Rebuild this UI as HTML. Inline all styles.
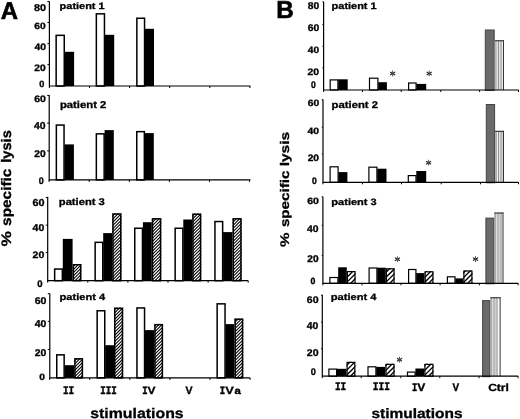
<!DOCTYPE html>
<html><head><meta charset="utf-8"><style>
html,body{margin:0;padding:0;background:#fff;}
svg{display:block;filter:grayscale(1);}
</style></head><body>
<svg width="520" height="419" viewBox="0 0 520 419" style="font-family:'Liberation Sans',sans-serif" text-rendering="geometricPrecision">
<defs></defs>
<rect width="520" height="419" fill="#fff"/>
<text transform="translate(0.80,19.30) scale(0.987,1)" font-family="Liberation Sans" font-weight="700" font-size="24.20" fill="#000" stroke="#000" stroke-width="0.608">A</text>
<text transform="translate(276.22,18.30) scale(0.991,1)" font-family="Liberation Sans" font-weight="700" font-size="24.49" fill="#000" stroke="#000" stroke-width="0.606">B</text>
<text transform="translate(34.00,11.12) scale(1.097,1)" font-family="Liberation Sans" font-weight="700" font-size="9.86" fill="#000" stroke="#000" stroke-width="0.319">80</text>
<text transform="translate(34.36,28.72) scale(1.125,1)" font-family="Liberation Sans" font-weight="700" font-size="9.14" fill="#000" stroke="#000" stroke-width="0.311">60</text>
<text transform="translate(34.47,49.62) scale(1.118,1)" font-family="Liberation Sans" font-weight="700" font-size="9.29" fill="#000" stroke="#000" stroke-width="0.313">40</text>
<text transform="translate(34.36,70.62) scale(1.091,1)" font-family="Liberation Sans" font-weight="700" font-size="9.43" fill="#000" stroke="#000" stroke-width="0.321">20</text>
<text transform="translate(39.16,86.83) scale(1.002,1)" font-family="Liberation Sans" font-weight="700" font-size="9.14" fill="#000" stroke="#000" stroke-width="0.349">0</text>
<text transform="translate(59.61,8.92) scale(1.204,1)" font-family="Liberation Sans" font-weight="700" font-size="9.10" fill="#000" stroke="#000" stroke-width="0.291">patient 1</text>
<rect x="56.15" y="35.35" width="8.10" height="50.65" fill="#fff" stroke="#000" stroke-width="1.5"/>
<rect x="64.70" y="51.80" width="9.40" height="34.20" fill="#000"/>
<rect x="96.35" y="13.85" width="8.10" height="72.15" fill="#fff" stroke="#000" stroke-width="1.5"/>
<rect x="104.90" y="34.80" width="9.30" height="51.20" fill="#000"/>
<rect x="136.85" y="18.25" width="7.70" height="67.75" fill="#fff" stroke="#000" stroke-width="1.5"/>
<rect x="145.00" y="28.80" width="9.00" height="57.20" fill="#000"/>
<text transform="translate(34.15,101.83) scale(1.122,1)" font-family="Liberation Sans" font-weight="700" font-size="9.43" fill="#000" stroke="#000" stroke-width="0.312">60</text>
<text transform="translate(34.07,128.52) scale(1.038,1)" font-family="Liberation Sans" font-weight="700" font-size="10.00" fill="#000" stroke="#000" stroke-width="0.337">40</text>
<text transform="translate(34.16,157.22) scale(1.044,1)" font-family="Liberation Sans" font-weight="700" font-size="9.86" fill="#000" stroke="#000" stroke-width="0.335">20</text>
<text transform="translate(38.67,183.62) scale(0.935,1)" font-family="Liberation Sans" font-weight="700" font-size="9.57" fill="#000" stroke="#000" stroke-width="0.374">0</text>
<text transform="translate(59.89,108.33) scale(1.140,1)" font-family="Liberation Sans" font-weight="700" font-size="9.93" fill="#000" stroke="#000" stroke-width="0.307">patient 2</text>
<rect x="56.35" y="125.05" width="7.70" height="54.85" fill="#fff" stroke="#000" stroke-width="1.5"/>
<rect x="64.50" y="144.40" width="9.40" height="35.50" fill="#000"/>
<rect x="96.35" y="133.85" width="7.80" height="46.05" fill="#fff" stroke="#000" stroke-width="1.5"/>
<rect x="104.60" y="130.10" width="9.20" height="49.80" fill="#000"/>
<rect x="136.75" y="131.65" width="7.60" height="48.25" fill="#fff" stroke="#000" stroke-width="1.5"/>
<rect x="144.80" y="133.10" width="9.00" height="46.80" fill="#000"/>
<text transform="translate(32.54,205.82) scale(1.087,1)" font-family="Liberation Sans" font-weight="700" font-size="10.00" fill="#000" stroke="#000" stroke-width="0.322">60</text>
<text transform="translate(32.57,231.02) scale(1.072,1)" font-family="Liberation Sans" font-weight="700" font-size="9.86" fill="#000" stroke="#000" stroke-width="0.326">40</text>
<text transform="translate(32.55,258.43) scale(1.139,1)" font-family="Liberation Sans" font-weight="700" font-size="9.29" fill="#000" stroke="#000" stroke-width="0.307">20</text>
<text transform="translate(37.14,286.62) scale(1.001,1)" font-family="Liberation Sans" font-weight="700" font-size="9.57" fill="#000" stroke="#000" stroke-width="0.350">0</text>
<text transform="translate(58.80,205.02) scale(1.158,1)" font-family="Liberation Sans" font-weight="700" font-size="9.66" fill="#000" stroke="#000" stroke-width="0.302">patient 3</text>
<rect x="54.65" y="269.05" width="7.70" height="11.65" fill="#fff" stroke="#000" stroke-width="1.5"/>
<rect x="62.80" y="238.90" width="9.80" height="41.80" fill="#000"/>
<clipPath id="c1"><rect x="72.60" y="264.00" width="8.80" height="16.70"/></clipPath>
<g clip-path="url(#c1)"><rect x="72.60" y="264.00" width="8.80" height="16.70" fill="#fff"/><path d="M71.60,290.50L82.40,279.70M71.60,287.30L82.40,276.50M71.60,284.10L82.40,273.30M71.60,280.90L82.40,270.10M71.60,277.70L82.40,266.90M71.60,274.50L82.40,263.70M71.60,271.30L82.40,260.50M71.60,268.10L82.40,257.30M71.60,264.90L82.40,254.10" stroke="#000" stroke-width="1.05" fill="none"/></g>
<rect x="73.35" y="264.75" width="7.30" height="15.95" fill="none" stroke="#000" stroke-width="1.5"/>
<rect x="95.15" y="242.35" width="7.60" height="38.35" fill="#fff" stroke="#000" stroke-width="1.5"/>
<rect x="103.20" y="233.10" width="9.00" height="47.60" fill="#000"/>
<clipPath id="c2"><rect x="112.20" y="213.30" width="9.30" height="67.40"/></clipPath>
<g clip-path="url(#c2)"><rect x="112.20" y="213.30" width="9.30" height="67.40" fill="#fff"/><path d="M111.20,291.00L122.50,279.70M111.20,287.80L122.50,276.50M111.20,284.60L122.50,273.30M111.20,281.40L122.50,270.10M111.20,278.20L122.50,266.90M111.20,275.00L122.50,263.70M111.20,271.80L122.50,260.50M111.20,268.60L122.50,257.30M111.20,265.40L122.50,254.10M111.20,262.20L122.50,250.90M111.20,259.00L122.50,247.70M111.20,255.80L122.50,244.50M111.20,252.60L122.50,241.30M111.20,249.40L122.50,238.10M111.20,246.20L122.50,234.90M111.20,243.00L122.50,231.70M111.20,239.80L122.50,228.50M111.20,236.60L122.50,225.30M111.20,233.40L122.50,222.10M111.20,230.20L122.50,218.90M111.20,227.00L122.50,215.70M111.20,223.80L122.50,212.50M111.20,220.60L122.50,209.30M111.20,217.40L122.50,206.10M111.20,214.20L122.50,202.90" stroke="#000" stroke-width="1.05" fill="none"/></g>
<rect x="112.95" y="214.05" width="7.80" height="66.65" fill="none" stroke="#000" stroke-width="1.5"/>
<rect x="134.75" y="228.25" width="7.70" height="52.45" fill="#fff" stroke="#000" stroke-width="1.5"/>
<rect x="142.90" y="222.20" width="8.90" height="58.50" fill="#000"/>
<clipPath id="c3"><rect x="151.80" y="218.10" width="9.50" height="62.60"/></clipPath>
<g clip-path="url(#c3)"><rect x="151.80" y="218.10" width="9.50" height="62.60" fill="#fff"/><path d="M150.80,291.20L162.30,279.70M150.80,288.00L162.30,276.50M150.80,284.80L162.30,273.30M150.80,281.60L162.30,270.10M150.80,278.40L162.30,266.90M150.80,275.20L162.30,263.70M150.80,272.00L162.30,260.50M150.80,268.80L162.30,257.30M150.80,265.60L162.30,254.10M150.80,262.40L162.30,250.90M150.80,259.20L162.30,247.70M150.80,256.00L162.30,244.50M150.80,252.80L162.30,241.30M150.80,249.60L162.30,238.10M150.80,246.40L162.30,234.90M150.80,243.20L162.30,231.70M150.80,240.00L162.30,228.50M150.80,236.80L162.30,225.30M150.80,233.60L162.30,222.10M150.80,230.40L162.30,218.90M150.80,227.20L162.30,215.70M150.80,224.00L162.30,212.50M150.80,220.80L162.30,209.30" stroke="#000" stroke-width="1.05" fill="none"/></g>
<rect x="152.55" y="218.85" width="8.00" height="61.85" fill="none" stroke="#000" stroke-width="1.5"/>
<rect x="175.15" y="228.25" width="7.70" height="52.45" fill="#fff" stroke="#000" stroke-width="1.5"/>
<rect x="183.30" y="219.50" width="8.90" height="61.20" fill="#000"/>
<clipPath id="c4"><rect x="192.20" y="213.50" width="9.10" height="67.20"/></clipPath>
<g clip-path="url(#c4)"><rect x="192.20" y="213.50" width="9.10" height="67.20" fill="#fff"/><path d="M191.20,290.80L202.30,279.70M191.20,287.60L202.30,276.50M191.20,284.40L202.30,273.30M191.20,281.20L202.30,270.10M191.20,278.00L202.30,266.90M191.20,274.80L202.30,263.70M191.20,271.60L202.30,260.50M191.20,268.40L202.30,257.30M191.20,265.20L202.30,254.10M191.20,262.00L202.30,250.90M191.20,258.80L202.30,247.70M191.20,255.60L202.30,244.50M191.20,252.40L202.30,241.30M191.20,249.20L202.30,238.10M191.20,246.00L202.30,234.90M191.20,242.80L202.30,231.70M191.20,239.60L202.30,228.50M191.20,236.40L202.30,225.30M191.20,233.20L202.30,222.10M191.20,230.00L202.30,218.90M191.20,226.80L202.30,215.70M191.20,223.60L202.30,212.50M191.20,220.40L202.30,209.30M191.20,217.20L202.30,206.10M191.20,214.00L202.30,202.90" stroke="#000" stroke-width="1.05" fill="none"/></g>
<rect x="192.95" y="214.25" width="7.60" height="66.45" fill="none" stroke="#000" stroke-width="1.5"/>
<rect x="214.95" y="221.55" width="7.70" height="59.15" fill="#fff" stroke="#000" stroke-width="1.5"/>
<rect x="223.10" y="232.10" width="9.40" height="48.60" fill="#000"/>
<clipPath id="c5"><rect x="232.50" y="218.10" width="9.20" height="62.60"/></clipPath>
<g clip-path="url(#c5)"><rect x="232.50" y="218.10" width="9.20" height="62.60" fill="#fff"/><path d="M231.50,290.90L242.70,279.70M231.50,287.70L242.70,276.50M231.50,284.50L242.70,273.30M231.50,281.30L242.70,270.10M231.50,278.10L242.70,266.90M231.50,274.90L242.70,263.70M231.50,271.70L242.70,260.50M231.50,268.50L242.70,257.30M231.50,265.30L242.70,254.10M231.50,262.10L242.70,250.90M231.50,258.90L242.70,247.70M231.50,255.70L242.70,244.50M231.50,252.50L242.70,241.30M231.50,249.30L242.70,238.10M231.50,246.10L242.70,234.90M231.50,242.90L242.70,231.70M231.50,239.70L242.70,228.50M231.50,236.50L242.70,225.30M231.50,233.30L242.70,222.10M231.50,230.10L242.70,218.90M231.50,226.90L242.70,215.70M231.50,223.70L242.70,212.50M231.50,220.50L242.70,209.30" stroke="#000" stroke-width="1.05" fill="none"/></g>
<rect x="233.25" y="218.85" width="7.70" height="61.85" fill="none" stroke="#000" stroke-width="1.5"/>
<text transform="translate(34.75,303.52) scale(1.073,1)" font-family="Liberation Sans" font-weight="700" font-size="9.86" fill="#000" stroke="#000" stroke-width="0.326">60</text>
<text transform="translate(34.67,327.43) scale(1.063,1)" font-family="Liberation Sans" font-weight="700" font-size="9.86" fill="#000" stroke="#000" stroke-width="0.329">40</text>
<text transform="translate(34.76,355.82) scale(1.069,1)" font-family="Liberation Sans" font-weight="700" font-size="9.71" fill="#000" stroke="#000" stroke-width="0.327">20</text>
<text transform="translate(39.32,379.93) scale(1.117,1)" font-family="Liberation Sans" font-weight="700" font-size="9.14" fill="#000" stroke="#000" stroke-width="0.313">0</text>
<text transform="translate(59.60,299.72) scale(1.201,1)" font-family="Liberation Sans" font-weight="700" font-size="9.24" fill="#000" stroke="#000" stroke-width="0.291">patient 4</text>
<rect x="56.75" y="354.85" width="7.40" height="23.05" fill="#fff" stroke="#000" stroke-width="1.5"/>
<rect x="64.60" y="365.20" width="9.60" height="12.70" fill="#000"/>
<clipPath id="c6"><rect x="74.20" y="358.10" width="8.90" height="19.80"/></clipPath>
<g clip-path="url(#c6)"><rect x="74.20" y="358.10" width="8.90" height="19.80" fill="#fff"/><path d="M73.20,387.80L84.10,376.90M73.20,384.60L84.10,373.70M73.20,381.40L84.10,370.50M73.20,378.20L84.10,367.30M73.20,375.00L84.10,364.10M73.20,371.80L84.10,360.90M73.20,368.60L84.10,357.70M73.20,365.40L84.10,354.50M73.20,362.20L84.10,351.30M73.20,359.00L84.10,348.10" stroke="#000" stroke-width="1.05" fill="none"/></g>
<rect x="74.95" y="358.85" width="7.40" height="19.05" fill="none" stroke="#000" stroke-width="1.5"/>
<rect x="97.15" y="310.75" width="7.60" height="67.15" fill="#fff" stroke="#000" stroke-width="1.5"/>
<rect x="105.20" y="345.20" width="8.80" height="32.70" fill="#000"/>
<clipPath id="c7"><rect x="114.00" y="307.60" width="9.20" height="70.30"/></clipPath>
<g clip-path="url(#c7)"><rect x="114.00" y="307.60" width="9.20" height="70.30" fill="#fff"/><path d="M113.00,388.10L124.20,376.90M113.00,384.90L124.20,373.70M113.00,381.70L124.20,370.50M113.00,378.50L124.20,367.30M113.00,375.30L124.20,364.10M113.00,372.10L124.20,360.90M113.00,368.90L124.20,357.70M113.00,365.70L124.20,354.50M113.00,362.50L124.20,351.30M113.00,359.30L124.20,348.10M113.00,356.10L124.20,344.90M113.00,352.90L124.20,341.70M113.00,349.70L124.20,338.50M113.00,346.50L124.20,335.30M113.00,343.30L124.20,332.10M113.00,340.10L124.20,328.90M113.00,336.90L124.20,325.70M113.00,333.70L124.20,322.50M113.00,330.50L124.20,319.30M113.00,327.30L124.20,316.10M113.00,324.10L124.20,312.90M113.00,320.90L124.20,309.70M113.00,317.70L124.20,306.50M113.00,314.50L124.20,303.30M113.00,311.30L124.20,300.10M113.00,308.10L124.20,296.90" stroke="#000" stroke-width="1.05" fill="none"/></g>
<rect x="114.75" y="308.35" width="7.70" height="69.55" fill="none" stroke="#000" stroke-width="1.5"/>
<rect x="136.95" y="307.95" width="7.60" height="69.95" fill="#fff" stroke="#000" stroke-width="1.5"/>
<rect x="145.00" y="330.10" width="9.20" height="47.80" fill="#000"/>
<clipPath id="c8"><rect x="154.20" y="323.90" width="8.90" height="54.00"/></clipPath>
<g clip-path="url(#c8)"><rect x="154.20" y="323.90" width="8.90" height="54.00" fill="#fff"/><path d="M153.20,387.80L164.10,376.90M153.20,384.60L164.10,373.70M153.20,381.40L164.10,370.50M153.20,378.20L164.10,367.30M153.20,375.00L164.10,364.10M153.20,371.80L164.10,360.90M153.20,368.60L164.10,357.70M153.20,365.40L164.10,354.50M153.20,362.20L164.10,351.30M153.20,359.00L164.10,348.10M153.20,355.80L164.10,344.90M153.20,352.60L164.10,341.70M153.20,349.40L164.10,338.50M153.20,346.20L164.10,335.30M153.20,343.00L164.10,332.10M153.20,339.80L164.10,328.90M153.20,336.60L164.10,325.70M153.20,333.40L164.10,322.50M153.20,330.20L164.10,319.30M153.20,327.00L164.10,316.10" stroke="#000" stroke-width="1.05" fill="none"/></g>
<rect x="154.95" y="324.65" width="7.40" height="53.25" fill="none" stroke="#000" stroke-width="1.5"/>
<rect x="217.15" y="303.85" width="7.90" height="74.05" fill="#fff" stroke="#000" stroke-width="1.5"/>
<rect x="225.50" y="324.10" width="8.90" height="53.80" fill="#000"/>
<clipPath id="c9"><rect x="234.40" y="318.50" width="8.90" height="59.40"/></clipPath>
<g clip-path="url(#c9)"><rect x="234.40" y="318.50" width="8.90" height="59.40" fill="#fff"/><path d="M233.40,387.80L244.30,376.90M233.40,384.60L244.30,373.70M233.40,381.40L244.30,370.50M233.40,378.20L244.30,367.30M233.40,375.00L244.30,364.10M233.40,371.80L244.30,360.90M233.40,368.60L244.30,357.70M233.40,365.40L244.30,354.50M233.40,362.20L244.30,351.30M233.40,359.00L244.30,348.10M233.40,355.80L244.30,344.90M233.40,352.60L244.30,341.70M233.40,349.40L244.30,338.50M233.40,346.20L244.30,335.30M233.40,343.00L244.30,332.10M233.40,339.80L244.30,328.90M233.40,336.60L244.30,325.70M233.40,333.40L244.30,322.50M233.40,330.20L244.30,319.30M233.40,327.00L244.30,316.10M233.40,323.80L244.30,312.90M233.40,320.60L244.30,309.70" stroke="#000" stroke-width="1.05" fill="none"/></g>
<rect x="235.15" y="319.25" width="7.40" height="58.65" fill="none" stroke="#000" stroke-width="1.5"/>
<text transform="translate(62.91,393.72) scale(0.823,1)" font-family="Liberation Mono" font-weight="700" font-size="11.52" fill="#000" stroke="#000" stroke-width="0.425">II</text>
<text transform="translate(100.24,393.72) scale(0.797,1)" font-family="Liberation Mono" font-weight="700" font-size="11.52" fill="#000" stroke="#000" stroke-width="0.439">III</text>
<text transform="translate(142.15,393.72) scale(0.814,1)" font-family="Liberation Mono" font-weight="700" font-size="11.06" fill="#000" stroke="#000" stroke-width="0.430">I</text>
<text transform="translate(147.61,393.72) scale(1.127,1)" font-family="Liberation Sans" font-weight="700" font-size="10.58" fill="#000" stroke="#000" stroke-width="0.311">V</text>
<text transform="translate(185.52,393.72) scale(0.996,1)" font-family="Liberation Sans" font-weight="700" font-size="10.58" fill="#000" stroke="#000" stroke-width="0.351">V</text>
<text transform="translate(219.75,393.72) scale(0.814,1)" font-family="Liberation Mono" font-weight="700" font-size="11.06" fill="#000" stroke="#000" stroke-width="0.430">I</text>
<text transform="translate(225.30,393.72) scale(1.214,1)" font-family="Liberation Sans" font-weight="700" font-size="10.58" fill="#000" stroke="#000" stroke-width="0.288">V</text>
<text transform="translate(234.56,393.75) scale(1.143,1)" font-family="Liberation Sans" font-weight="700" font-size="9.91" fill="#000" stroke="#000" stroke-width="0.438">a</text>
<text transform="translate(90.27,417.52) scale(1.139,1)" font-family="Liberation Sans" font-weight="700" font-size="13.93" fill="#000" stroke="#000" stroke-width="0.307">stimulations</text>
<text transform="translate(11.12,246.51) rotate(-90) scale(1.255,1)" font-family="Liberation Sans" font-weight="700" font-size="13.80" stroke="#000" stroke-width="0.279">%</text>
<text transform="translate(11.12,225.91) rotate(-90) scale(1.116,1)" font-family="Liberation Sans" font-weight="700" font-size="13.80" stroke="#000" stroke-width="0.314">specific</text>
<text transform="translate(11.12,162.80) rotate(-90) scale(1.064,1)" font-family="Liberation Sans" font-weight="700" font-size="13.80" stroke="#000" stroke-width="0.329">lysis</text>
<text transform="translate(307.71,8.62) scale(1.049,1)" font-family="Liberation Sans" font-weight="700" font-size="9.86" fill="#000" stroke="#000" stroke-width="0.334">80</text>
<text transform="translate(307.66,30.93) scale(1.085,1)" font-family="Liberation Sans" font-weight="700" font-size="9.57" fill="#000" stroke="#000" stroke-width="0.323">60</text>
<text transform="translate(307.77,52.73) scale(1.114,1)" font-family="Liberation Sans" font-weight="700" font-size="9.14" fill="#000" stroke="#000" stroke-width="0.314">40</text>
<text transform="translate(307.56,74.62) scale(1.102,1)" font-family="Liberation Sans" font-weight="700" font-size="9.43" fill="#000" stroke="#000" stroke-width="0.318">20</text>
<text transform="translate(310.98,88.42) scale(0.891,1)" font-family="Liberation Sans" font-weight="700" font-size="9.57" fill="#000" stroke="#000" stroke-width="0.393">0</text>
<text transform="translate(331.61,9.12) scale(1.168,1)" font-family="Liberation Sans" font-weight="700" font-size="9.38" fill="#000" stroke="#000" stroke-width="0.300">patient 1</text>
<rect x="330.20" y="79.90" width="7.70" height="10.10" fill="#fff" stroke="#000" stroke-width="1.2"/>
<rect x="338.20" y="79.30" width="9.50" height="10.70" fill="#000"/>
<rect x="369.50" y="78.20" width="8.40" height="11.80" fill="#fff" stroke="#000" stroke-width="1.2"/>
<rect x="378.20" y="82.20" width="8.70" height="7.80" fill="#000"/>
<rect x="408.60" y="83.00" width="7.50" height="7.00" fill="#fff" stroke="#000" stroke-width="1.2"/>
<rect x="416.40" y="83.90" width="9.80" height="6.10" fill="#000"/>
<rect x="485.30" y="30.00" width="8.90" height="60.50" fill="#6a6a6a" stroke="#444" stroke-width="1"/>
<rect x="494.70" y="40.20" width="9.30" height="49.80" fill="#fff"/>
<rect x="494.70" y="40.20" width="0.40" height="49.80" fill="#555"/>
<rect x="495.20" y="40.20" width="1.50" height="49.80" fill="#aaa"/>
<rect x="497.80" y="40.20" width="1.00" height="49.80" fill="#777"/>
<rect x="499.60" y="40.20" width="2.70" height="49.80" fill="#bbb"/>
<rect x="503.00" y="40.20" width="1.00" height="49.80" fill="#333"/>
<rect x="494.70" y="40.20" width="9.30" height="1.1" fill="#333"/>
<path d="M395.11,72.05L390.09,74.95M395.11,74.95L390.09,72.05" stroke="#222" stroke-width="1.1" fill="none"/>
<path d="M392.60,70.60L392.60,76.40" stroke="#555" stroke-width="1" fill="none"/>
<path d="M431.71,72.05L426.69,74.95M431.71,74.95L426.69,72.05" stroke="#222" stroke-width="1.1" fill="none"/>
<path d="M429.20,70.60L429.20,76.40" stroke="#555" stroke-width="1" fill="none"/>
<text transform="translate(307.66,106.12) scale(1.136,1)" font-family="Liberation Sans" font-weight="700" font-size="9.14" fill="#000" stroke="#000" stroke-width="0.308">60</text>
<text transform="translate(307.47,134.02) scale(1.135,1)" font-family="Liberation Sans" font-weight="700" font-size="9.14" fill="#000" stroke="#000" stroke-width="0.308">40</text>
<text transform="translate(307.67,160.72) scale(1.098,1)" font-family="Liberation Sans" font-weight="700" font-size="9.29" fill="#000" stroke="#000" stroke-width="0.319">20</text>
<text transform="translate(311.98,183.72) scale(0.904,1)" font-family="Liberation Sans" font-weight="700" font-size="9.43" fill="#000" stroke="#000" stroke-width="0.387">0</text>
<text transform="translate(331.59,108.12) scale(1.170,1)" font-family="Liberation Sans" font-weight="700" font-size="9.66" fill="#000" stroke="#000" stroke-width="0.299">patient 2</text>
<rect x="330.10" y="166.80" width="8.00" height="15.50" fill="#fff" stroke="#000" stroke-width="1.2"/>
<rect x="338.40" y="172.10" width="9.00" height="10.20" fill="#000"/>
<rect x="368.90" y="167.20" width="8.00" height="15.10" fill="#fff" stroke="#000" stroke-width="1.2"/>
<rect x="377.20" y="168.70" width="9.30" height="13.60" fill="#000"/>
<rect x="408.30" y="175.60" width="7.70" height="6.70" fill="#fff" stroke="#000" stroke-width="1.2"/>
<rect x="416.30" y="171.00" width="9.90" height="11.30" fill="#000"/>
<rect x="486.30" y="104.50" width="8.30" height="78.30" fill="#6a6a6a" stroke="#444" stroke-width="1"/>
<rect x="495.10" y="130.80" width="8.90" height="51.50" fill="#fff"/>
<rect x="495.10" y="130.80" width="0.40" height="51.50" fill="#555"/>
<rect x="495.60" y="130.80" width="1.50" height="51.50" fill="#aaa"/>
<rect x="498.20" y="130.80" width="1.00" height="51.50" fill="#777"/>
<rect x="500.00" y="130.80" width="2.70" height="51.50" fill="#bbb"/>
<rect x="503.00" y="130.80" width="1.00" height="51.50" fill="#333"/>
<rect x="495.10" y="130.80" width="8.90" height="1.1" fill="#333"/>
<path d="M431.11,161.25L426.09,164.15M431.11,164.15L426.09,161.25" stroke="#222" stroke-width="1.1" fill="none"/>
<path d="M428.60,159.80L428.60,165.60" stroke="#555" stroke-width="1" fill="none"/>
<text transform="translate(307.25,203.62) scale(1.157,1)" font-family="Liberation Sans" font-weight="700" font-size="9.14" fill="#000" stroke="#000" stroke-width="0.302">60</text>
<text transform="translate(307.07,232.42) scale(1.084,1)" font-family="Liberation Sans" font-weight="700" font-size="9.57" fill="#000" stroke="#000" stroke-width="0.323">40</text>
<text transform="translate(307.27,261.82) scale(1.034,1)" font-family="Liberation Sans" font-weight="700" font-size="9.86" fill="#000" stroke="#000" stroke-width="0.338">20</text>
<text transform="translate(310.48,283.72) scale(0.971,1)" font-family="Liberation Sans" font-weight="700" font-size="9.00" fill="#000" stroke="#000" stroke-width="0.361">0</text>
<text transform="translate(331.31,205.02) scale(1.197,1)" font-family="Liberation Sans" font-weight="700" font-size="9.24" fill="#000" stroke="#000" stroke-width="0.292">patient 3</text>
<rect x="329.90" y="277.50" width="8.00" height="5.80" fill="#fff" stroke="#000" stroke-width="1.2"/>
<rect x="338.20" y="267.30" width="8.60" height="16.00" fill="#000"/>
<clipPath id="c10"><rect x="346.80" y="271.00" width="8.80" height="12.30"/></clipPath>
<g clip-path="url(#c10)"><rect x="346.80" y="271.00" width="8.80" height="12.30" fill="#fff"/><path d="M345.80,293.10L356.60,282.30M345.80,288.20L356.60,277.40M345.80,283.30L356.60,272.50M345.80,278.40L356.60,267.60M345.80,273.50L356.60,262.70" stroke="#000" stroke-width="1.35" fill="none"/></g>
<rect x="347.40" y="271.60" width="7.60" height="11.70" fill="none" stroke="#000" stroke-width="1.2"/>
<rect x="369.10" y="268.00" width="7.80" height="15.30" fill="#fff" stroke="#000" stroke-width="1.2"/>
<rect x="377.20" y="267.70" width="8.60" height="15.60" fill="#000"/>
<clipPath id="c11"><rect x="385.80" y="268.20" width="8.80" height="15.10"/></clipPath>
<g clip-path="url(#c11)"><rect x="385.80" y="268.20" width="8.80" height="15.10" fill="#fff"/><path d="M384.80,293.10L395.60,282.30M384.80,288.20L395.60,277.40M384.80,283.30L395.60,272.50M384.80,278.40L395.60,267.60M384.80,273.50L395.60,262.70" stroke="#000" stroke-width="1.35" fill="none"/></g>
<rect x="386.40" y="268.80" width="7.60" height="14.50" fill="none" stroke="#000" stroke-width="1.2"/>
<rect x="408.60" y="269.50" width="7.30" height="13.80" fill="#fff" stroke="#000" stroke-width="1.2"/>
<rect x="416.20" y="273.10" width="8.40" height="10.20" fill="#000"/>
<clipPath id="c12"><rect x="424.60" y="271.20" width="8.90" height="12.10"/></clipPath>
<g clip-path="url(#c12)"><rect x="424.60" y="271.20" width="8.90" height="12.10" fill="#fff"/><path d="M423.60,293.20L434.50,282.30M423.60,288.30L434.50,277.40M423.60,283.40L434.50,272.50M423.60,278.50L434.50,267.60M423.60,273.60L434.50,262.70" stroke="#000" stroke-width="1.35" fill="none"/></g>
<rect x="425.20" y="271.80" width="7.70" height="11.50" fill="none" stroke="#000" stroke-width="1.2"/>
<rect x="447.40" y="276.80" width="7.60" height="6.50" fill="#fff" stroke="#000" stroke-width="1.2"/>
<rect x="455.30" y="278.40" width="8.00" height="4.90" fill="#000"/>
<clipPath id="c13"><rect x="463.30" y="270.40" width="9.20" height="12.90"/></clipPath>
<g clip-path="url(#c13)"><rect x="463.30" y="270.40" width="9.20" height="12.90" fill="#fff"/><path d="M462.30,293.50L473.50,282.30M462.30,288.60L473.50,277.40M462.30,283.70L473.50,272.50M462.30,278.80L473.50,267.60M462.30,273.90L473.50,262.70" stroke="#000" stroke-width="1.35" fill="none"/></g>
<rect x="463.90" y="271.00" width="8.00" height="12.30" fill="none" stroke="#000" stroke-width="1.2"/>
<rect x="485.90" y="218.10" width="8.00" height="65.70" fill="#6a6a6a" stroke="#444" stroke-width="1"/>
<rect x="494.40" y="212.50" width="9.10" height="70.80" fill="#fff"/>
<rect x="494.40" y="212.50" width="0.40" height="70.80" fill="#555"/>
<rect x="494.90" y="212.50" width="1.50" height="70.80" fill="#aaa"/>
<rect x="497.50" y="212.50" width="1.00" height="70.80" fill="#777"/>
<rect x="499.30" y="212.50" width="2.70" height="70.80" fill="#bbb"/>
<rect x="502.50" y="212.50" width="1.00" height="70.80" fill="#333"/>
<rect x="494.40" y="212.50" width="9.10" height="1.1" fill="#333"/>
<path d="M399.91,257.75L394.89,260.65M399.91,260.65L394.89,257.75" stroke="#222" stroke-width="1.1" fill="none"/>
<path d="M397.40,256.30L397.40,262.10" stroke="#555" stroke-width="1" fill="none"/>
<path d="M478.01,257.65L472.99,260.55M478.01,260.55L472.99,257.65" stroke="#222" stroke-width="1.1" fill="none"/>
<path d="M475.50,256.20L475.50,262.00" stroke="#555" stroke-width="1" fill="none"/>
<text transform="translate(306.85,302.52) scale(1.105,1)" font-family="Liberation Sans" font-weight="700" font-size="9.57" fill="#000" stroke="#000" stroke-width="0.317">60</text>
<text transform="translate(306.77,329.32) scale(1.053,1)" font-family="Liberation Sans" font-weight="700" font-size="9.86" fill="#000" stroke="#000" stroke-width="0.332">40</text>
<text transform="translate(306.85,356.43) scale(1.073,1)" font-family="Liberation Sans" font-weight="700" font-size="9.86" fill="#000" stroke="#000" stroke-width="0.326">20</text>
<text transform="translate(310.86,375.22) scale(0.957,1)" font-family="Liberation Sans" font-weight="700" font-size="9.57" fill="#000" stroke="#000" stroke-width="0.366">0</text>
<text transform="translate(330.80,299.72) scale(1.201,1)" font-family="Liberation Sans" font-weight="700" font-size="9.24" fill="#000" stroke="#000" stroke-width="0.291">patient 4</text>
<rect x="328.90" y="369.10" width="7.70" height="7.10" fill="#fff" stroke="#000" stroke-width="1.2"/>
<rect x="336.90" y="368.80" width="9.60" height="7.40" fill="#000"/>
<clipPath id="c14"><rect x="346.50" y="361.80" width="8.90" height="14.40"/></clipPath>
<g clip-path="url(#c14)"><rect x="346.50" y="361.80" width="8.90" height="14.40" fill="#fff"/><path d="M345.50,386.10L356.40,375.20M345.50,381.20L356.40,370.30M345.50,376.30L356.40,365.40M345.50,371.40L356.40,360.50M345.50,366.50L356.40,355.60" stroke="#000" stroke-width="1.35" fill="none"/></g>
<rect x="347.10" y="362.40" width="7.70" height="13.80" fill="none" stroke="#000" stroke-width="1.2"/>
<rect x="368.00" y="366.80" width="7.90" height="9.40" fill="#fff" stroke="#000" stroke-width="1.2"/>
<rect x="376.20" y="366.90" width="9.20" height="9.30" fill="#000"/>
<clipPath id="c15"><rect x="385.40" y="363.80" width="9.20" height="12.40"/></clipPath>
<g clip-path="url(#c15)"><rect x="385.40" y="363.80" width="9.20" height="12.40" fill="#fff"/><path d="M384.40,386.40L395.60,375.20M384.40,381.50L395.60,370.30M384.40,376.60L395.60,365.40M384.40,371.70L395.60,360.50M384.40,366.80L395.60,355.60" stroke="#000" stroke-width="1.35" fill="none"/></g>
<rect x="386.00" y="364.40" width="8.00" height="11.80" fill="none" stroke="#000" stroke-width="1.2"/>
<rect x="407.50" y="372.10" width="7.60" height="4.10" fill="#fff" stroke="#000" stroke-width="1.2"/>
<rect x="415.40" y="368.50" width="8.90" height="7.70" fill="#000"/>
<clipPath id="c16"><rect x="424.30" y="363.80" width="9.20" height="12.40"/></clipPath>
<g clip-path="url(#c16)"><rect x="424.30" y="363.80" width="9.20" height="12.40" fill="#fff"/><path d="M423.30,386.40L434.50,375.20M423.30,381.50L434.50,370.30M423.30,376.60L434.50,365.40M423.30,371.70L434.50,360.50M423.30,366.80L434.50,355.60" stroke="#000" stroke-width="1.35" fill="none"/></g>
<rect x="424.90" y="364.40" width="8.00" height="11.80" fill="none" stroke="#000" stroke-width="1.2"/>
<rect x="482.60" y="300.60" width="7.30" height="76.10" fill="#6a6a6a" stroke="#444" stroke-width="1"/>
<rect x="490.40" y="297.20" width="10.20" height="79.00" fill="#fff"/>
<rect x="490.40" y="297.20" width="0.40" height="79.00" fill="#555"/>
<rect x="490.90" y="297.20" width="1.50" height="79.00" fill="#aaa"/>
<rect x="493.50" y="297.20" width="1.00" height="79.00" fill="#777"/>
<rect x="495.30" y="297.20" width="2.70" height="79.00" fill="#bbb"/>
<rect x="499.60" y="297.20" width="1.00" height="79.00" fill="#333"/>
<rect x="490.40" y="297.20" width="10.20" height="1.1" fill="#333"/>
<path d="M402.01,358.25L396.99,361.15M402.01,361.15L396.99,358.25" stroke="#222" stroke-width="1.1" fill="none"/>
<path d="M399.50,356.80L399.50,362.60" stroke="#555" stroke-width="1" fill="none"/>
<text transform="translate(334.91,390.43) scale(0.823,1)" font-family="Liberation Mono" font-weight="700" font-size="11.52" fill="#000" stroke="#000" stroke-width="0.425">II</text>
<text transform="translate(372.81,390.43) scale(0.829,1)" font-family="Liberation Mono" font-weight="700" font-size="11.52" fill="#000" stroke="#000" stroke-width="0.422">III</text>
<text transform="translate(411.97,390.52) scale(0.772,1)" font-family="Liberation Mono" font-weight="700" font-size="11.36" fill="#000" stroke="#000" stroke-width="0.453">I</text>
<text transform="translate(417.30,390.52) scale(1.111,1)" font-family="Liberation Sans" font-weight="700" font-size="10.87" fill="#000" stroke="#000" stroke-width="0.315">V</text>
<text transform="translate(452.53,390.52) scale(0.913,1)" font-family="Liberation Sans" font-weight="700" font-size="10.87" fill="#000" stroke="#000" stroke-width="0.383">V</text>
<text transform="translate(488.14,390.52) scale(1.168,1)" font-family="Liberation Sans" font-weight="700" font-size="10.34" fill="#000" stroke="#000" stroke-width="0.300">Ctrl</text>
<text transform="translate(371.38,417.52) scale(1.133,1)" font-family="Liberation Sans" font-weight="700" font-size="13.66" fill="#000" stroke="#000" stroke-width="0.309">stimulations</text>
<text transform="translate(289.12,246.88) rotate(-90) scale(1.300,1)" font-family="Liberation Sans" font-weight="700" font-size="12.50" stroke="#000" stroke-width="0.269">%</text>
<text transform="translate(289.12,227.11) rotate(-90) scale(1.214,1)" font-family="Liberation Sans" font-weight="700" font-size="12.50" stroke="#000" stroke-width="0.288">specific</text>
<text transform="translate(289.12,166.36) rotate(-90) scale(1.243,1)" font-family="Liberation Sans" font-weight="700" font-size="12.50" stroke="#000" stroke-width="0.282">lysis</text>
<line x1="49.40" y1="1.50" x2="49.40" y2="86.60" stroke="#000" stroke-width="1.2"/>
<line x1="49.40" y1="86.00" x2="250.40" y2="86.00" stroke="#000" stroke-width="1.2"/>
<line x1="47.40" y1="1.50" x2="49.40" y2="1.50" stroke="#000" stroke-width="1.0"/>
<line x1="47.40" y1="22.50" x2="49.40" y2="22.50" stroke="#000" stroke-width="1.0"/>
<line x1="47.40" y1="43.60" x2="49.40" y2="43.60" stroke="#000" stroke-width="1.0"/>
<line x1="47.40" y1="64.60" x2="49.40" y2="64.60" stroke="#000" stroke-width="1.0"/>
<line x1="49.40" y1="86.00" x2="49.40" y2="88.00" stroke="#000" stroke-width="1.0"/>
<line x1="89.50" y1="86.00" x2="89.50" y2="88.00" stroke="#000" stroke-width="1.0"/>
<line x1="129.60" y1="86.00" x2="129.60" y2="88.00" stroke="#000" stroke-width="1.0"/>
<line x1="169.70" y1="86.00" x2="169.70" y2="88.00" stroke="#000" stroke-width="1.0"/>
<line x1="209.80" y1="86.00" x2="209.80" y2="88.00" stroke="#000" stroke-width="1.0"/>
<line x1="249.90" y1="86.00" x2="249.90" y2="88.00" stroke="#000" stroke-width="1.0"/>
<line x1="49.20" y1="95.00" x2="49.20" y2="180.50" stroke="#000" stroke-width="1.2"/>
<line x1="49.20" y1="179.90" x2="250.40" y2="179.90" stroke="#000" stroke-width="1.2"/>
<line x1="47.20" y1="95.40" x2="49.20" y2="95.40" stroke="#000" stroke-width="1.0"/>
<line x1="47.20" y1="123.10" x2="49.20" y2="123.10" stroke="#000" stroke-width="1.0"/>
<line x1="47.20" y1="150.90" x2="49.20" y2="150.90" stroke="#000" stroke-width="1.0"/>
<line x1="49.10" y1="179.90" x2="49.10" y2="181.90" stroke="#000" stroke-width="1.0"/>
<line x1="89.20" y1="179.90" x2="89.20" y2="181.90" stroke="#000" stroke-width="1.0"/>
<line x1="129.30" y1="179.90" x2="129.30" y2="181.90" stroke="#000" stroke-width="1.0"/>
<line x1="169.40" y1="179.90" x2="169.40" y2="181.90" stroke="#000" stroke-width="1.0"/>
<line x1="209.50" y1="179.90" x2="209.50" y2="181.90" stroke="#000" stroke-width="1.0"/>
<line x1="249.60" y1="179.90" x2="249.60" y2="181.90" stroke="#000" stroke-width="1.0"/>
<line x1="47.70" y1="196.80" x2="47.70" y2="281.30" stroke="#000" stroke-width="1.2"/>
<line x1="47.70" y1="280.70" x2="248.20" y2="280.70" stroke="#000" stroke-width="1.2"/>
<line x1="45.70" y1="197.60" x2="47.70" y2="197.60" stroke="#000" stroke-width="1.0"/>
<line x1="45.70" y1="225.10" x2="47.70" y2="225.10" stroke="#000" stroke-width="1.0"/>
<line x1="45.70" y1="252.60" x2="47.70" y2="252.60" stroke="#000" stroke-width="1.0"/>
<line x1="47.70" y1="280.70" x2="47.70" y2="282.70" stroke="#000" stroke-width="1.0"/>
<line x1="87.80" y1="280.70" x2="87.80" y2="282.70" stroke="#000" stroke-width="1.0"/>
<line x1="127.90" y1="280.70" x2="127.90" y2="282.70" stroke="#000" stroke-width="1.0"/>
<line x1="168.00" y1="280.70" x2="168.00" y2="282.70" stroke="#000" stroke-width="1.0"/>
<line x1="208.10" y1="280.70" x2="208.10" y2="282.70" stroke="#000" stroke-width="1.0"/>
<line x1="248.20" y1="280.70" x2="248.20" y2="282.70" stroke="#000" stroke-width="1.0"/>
<line x1="49.80" y1="293.40" x2="49.80" y2="378.50" stroke="#000" stroke-width="1.2"/>
<line x1="49.80" y1="377.90" x2="250.20" y2="377.90" stroke="#000" stroke-width="1.2"/>
<line x1="47.80" y1="293.70" x2="49.80" y2="293.70" stroke="#000" stroke-width="1.0"/>
<line x1="47.80" y1="321.40" x2="49.80" y2="321.40" stroke="#000" stroke-width="1.0"/>
<line x1="47.80" y1="349.50" x2="49.80" y2="349.50" stroke="#000" stroke-width="1.0"/>
<line x1="49.60" y1="377.90" x2="49.60" y2="379.90" stroke="#000" stroke-width="1.0"/>
<line x1="89.70" y1="377.90" x2="89.70" y2="379.90" stroke="#000" stroke-width="1.0"/>
<line x1="129.80" y1="377.90" x2="129.80" y2="379.90" stroke="#000" stroke-width="1.0"/>
<line x1="169.90" y1="377.90" x2="169.90" y2="379.90" stroke="#000" stroke-width="1.0"/>
<line x1="210.00" y1="377.90" x2="210.00" y2="379.90" stroke="#000" stroke-width="1.0"/>
<line x1="250.10" y1="377.90" x2="250.10" y2="379.90" stroke="#000" stroke-width="1.0"/>
<line x1="323.60" y1="1.80" x2="323.60" y2="90.60" stroke="#000" stroke-width="1.2"/>
<line x1="323.60" y1="90.00" x2="518.70" y2="90.00" stroke="#000" stroke-width="1.2"/>
<line x1="322.40" y1="1.80" x2="323.60" y2="1.80" stroke="#000" stroke-width="1.0"/>
<line x1="322.40" y1="24.60" x2="323.60" y2="24.60" stroke="#000" stroke-width="1.0"/>
<line x1="322.40" y1="46.20" x2="323.60" y2="46.20" stroke="#000" stroke-width="1.0"/>
<line x1="322.40" y1="67.80" x2="323.60" y2="67.80" stroke="#000" stroke-width="1.0"/>
<line x1="323.60" y1="90.00" x2="323.60" y2="92.00" stroke="#000" stroke-width="1.0"/>
<line x1="362.50" y1="90.00" x2="362.50" y2="92.00" stroke="#000" stroke-width="1.0"/>
<line x1="401.20" y1="90.00" x2="401.20" y2="92.00" stroke="#000" stroke-width="1.0"/>
<line x1="440.80" y1="90.00" x2="440.80" y2="92.00" stroke="#000" stroke-width="1.0"/>
<line x1="479.60" y1="90.00" x2="479.60" y2="92.00" stroke="#000" stroke-width="1.0"/>
<line x1="518.50" y1="90.00" x2="518.50" y2="92.00" stroke="#000" stroke-width="1.0"/>
<line x1="323.00" y1="99.50" x2="323.00" y2="182.90" stroke="#000" stroke-width="1.2"/>
<line x1="323.00" y1="182.30" x2="518.50" y2="182.30" stroke="#000" stroke-width="1.2"/>
<line x1="321.80" y1="99.70" x2="323.00" y2="99.70" stroke="#000" stroke-width="1.0"/>
<line x1="321.80" y1="127.20" x2="323.00" y2="127.20" stroke="#000" stroke-width="1.0"/>
<line x1="321.80" y1="153.90" x2="323.00" y2="153.90" stroke="#000" stroke-width="1.0"/>
<line x1="322.90" y1="182.30" x2="322.90" y2="184.30" stroke="#000" stroke-width="1.0"/>
<line x1="362.50" y1="182.30" x2="362.50" y2="184.30" stroke="#000" stroke-width="1.0"/>
<line x1="401.50" y1="182.30" x2="401.50" y2="184.30" stroke="#000" stroke-width="1.0"/>
<line x1="441.20" y1="182.30" x2="441.20" y2="184.30" stroke="#000" stroke-width="1.0"/>
<line x1="480.50" y1="182.30" x2="480.50" y2="184.30" stroke="#000" stroke-width="1.0"/>
<line x1="518.50" y1="182.30" x2="518.50" y2="184.30" stroke="#000" stroke-width="1.0"/>
<line x1="322.90" y1="196.80" x2="322.90" y2="283.90" stroke="#000" stroke-width="1.2"/>
<line x1="322.90" y1="283.30" x2="518.20" y2="283.30" stroke="#000" stroke-width="1.2"/>
<line x1="321.70" y1="196.80" x2="322.90" y2="196.80" stroke="#000" stroke-width="1.0"/>
<line x1="321.70" y1="225.20" x2="322.90" y2="225.20" stroke="#000" stroke-width="1.0"/>
<line x1="321.70" y1="255.40" x2="322.90" y2="255.40" stroke="#000" stroke-width="1.0"/>
<line x1="322.90" y1="283.30" x2="322.90" y2="285.30" stroke="#000" stroke-width="1.0"/>
<line x1="362.00" y1="283.30" x2="362.00" y2="285.30" stroke="#000" stroke-width="1.0"/>
<line x1="401.00" y1="283.30" x2="401.00" y2="285.30" stroke="#000" stroke-width="1.0"/>
<line x1="440.10" y1="283.30" x2="440.10" y2="285.30" stroke="#000" stroke-width="1.0"/>
<line x1="479.40" y1="283.30" x2="479.40" y2="285.30" stroke="#000" stroke-width="1.0"/>
<line x1="518.20" y1="283.30" x2="518.20" y2="285.30" stroke="#000" stroke-width="1.0"/>
<line x1="322.30" y1="294.80" x2="322.30" y2="376.80" stroke="#000" stroke-width="1.2"/>
<line x1="322.30" y1="376.20" x2="518.10" y2="376.20" stroke="#000" stroke-width="1.2"/>
<line x1="321.10" y1="295.20" x2="322.30" y2="295.20" stroke="#000" stroke-width="1.0"/>
<line x1="321.10" y1="322.20" x2="322.30" y2="322.20" stroke="#000" stroke-width="1.0"/>
<line x1="321.10" y1="348.80" x2="322.30" y2="348.80" stroke="#000" stroke-width="1.0"/>
<line x1="322.30" y1="376.20" x2="322.30" y2="378.20" stroke="#000" stroke-width="1.0"/>
<line x1="361.20" y1="376.20" x2="361.20" y2="378.20" stroke="#000" stroke-width="1.0"/>
<line x1="400.80" y1="376.20" x2="400.80" y2="378.20" stroke="#000" stroke-width="1.0"/>
<line x1="439.80" y1="376.20" x2="439.80" y2="378.20" stroke="#000" stroke-width="1.0"/>
<line x1="479.00" y1="376.20" x2="479.00" y2="378.20" stroke="#000" stroke-width="1.0"/>
<line x1="518.10" y1="376.20" x2="518.10" y2="378.20" stroke="#000" stroke-width="1.0"/>
</svg>
</body></html>
